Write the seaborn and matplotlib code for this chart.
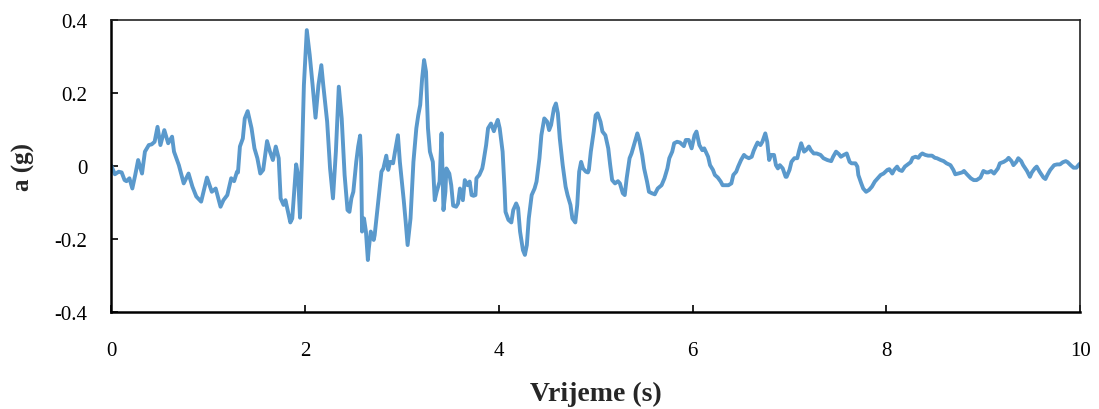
import matplotlib
matplotlib.use("Agg")
import matplotlib.pyplot as plt
import seaborn as sns
import pandas as pd

# time (s) and acceleration (g)
time_s = [0.0, 0.04, 0.08, 0.11, 0.14, 0.16, 0.19, 0.22, 0.25, 0.28, 0.32, 0.35, 0.39, 0.42,
          0.45, 0.48, 0.51, 0.55, 0.59, 0.63, 0.65, 0.70, 0.75, 0.80, 0.84, 0.88, 0.93, 0.99,
          1.04, 1.08, 1.13, 1.16, 1.20, 1.24, 1.27, 1.30, 1.31, 1.33, 1.36, 1.38, 1.41, 1.45,
          1.48, 1.51, 1.54, 1.57, 1.61, 1.64, 1.67, 1.70, 1.73, 1.75, 1.78, 1.80, 1.85, 1.87,
          1.91, 1.93, 1.95, 1.97, 1.99, 2.02, 2.05, 2.08, 2.11, 2.14, 2.17, 2.19, 2.23, 2.26,
          2.29, 2.32, 2.35, 2.38, 2.41, 2.44, 2.46, 2.48, 2.50, 2.53, 2.55, 2.57, 2.58, 2.59,
          2.61, 2.63, 2.65, 2.66, 2.68, 2.71, 2.72, 2.76, 2.79, 2.81, 2.84, 2.86, 2.88, 2.91,
          2.93, 2.96, 2.98, 3.02, 3.04, 3.06, 3.09, 3.12, 3.15, 3.17, 3.19, 3.21, 3.23, 3.25,
          3.27, 3.29, 3.32, 3.34, 3.36, 3.39, 3.41, 3.42, 3.43, 3.45, 3.46, 3.49, 3.51, 3.53,
          3.56, 3.58, 3.60, 3.63, 3.65, 3.68, 3.70, 3.72, 3.74, 3.76, 3.77, 3.80, 3.83, 3.84,
          3.87, 3.89, 3.92, 3.95, 3.97, 3.99, 4.01, 4.04, 4.06, 4.07, 4.10, 4.13, 4.15, 4.18,
          4.20, 4.22, 4.25, 4.27, 4.29, 4.31, 4.34, 4.37, 4.39, 4.42, 4.44, 4.47, 4.50, 4.52,
          4.54, 4.57, 4.59, 4.61, 4.63, 4.66, 4.69, 4.71, 4.74, 4.76, 4.79, 4.81, 4.83, 4.85,
          4.87, 4.90, 4.92, 4.93, 4.95, 4.98, 5.00, 5.02, 5.05, 5.07, 5.10, 5.13, 5.15, 5.17,
          5.20, 5.23, 5.25, 5.28, 5.30, 5.32, 5.35, 5.37, 5.40, 5.43, 5.45, 5.48, 5.50, 5.53,
          5.55, 5.58, 5.61, 5.64, 5.68, 5.71, 5.74, 5.76, 5.79, 5.81, 5.84, 5.87, 5.91, 5.93,
          5.96, 5.99, 6.02, 6.04, 6.07, 6.10, 6.12, 6.16, 6.18, 6.21, 6.23, 6.26, 6.29, 6.31,
          6.34, 6.37, 6.40, 6.42, 6.45, 6.47, 6.50, 6.53, 6.55, 6.58, 6.61, 6.63, 6.65, 6.67,
          6.70, 6.72, 6.75, 6.77, 6.79, 6.81, 6.84, 6.86, 6.88, 6.90, 6.93, 6.96, 6.97, 7.00,
          7.02, 7.05, 7.08, 7.10, 7.12, 7.15, 7.17, 7.20, 7.22, 7.25, 7.28, 7.32, 7.35, 7.39,
          7.43, 7.45, 7.48, 7.51, 7.53, 7.56, 7.59, 7.62, 7.64, 7.68, 7.70, 7.71, 7.74, 7.76,
          7.79, 7.82, 7.85, 7.88, 7.91, 7.94, 7.97, 8.01, 8.03, 8.06, 8.08, 8.11, 8.13, 8.16,
          8.19, 8.21, 8.25, 8.27, 8.30, 8.33, 8.35, 8.37, 8.40, 8.43, 8.47, 8.50, 8.52, 8.56,
          8.59, 8.62, 8.66, 8.69, 8.71, 8.74, 8.78, 8.80, 8.83, 8.87, 8.90, 8.93, 8.97, 9.00,
          9.03, 9.05, 9.08, 9.11, 9.15, 9.17, 9.21, 9.24, 9.26, 9.29, 9.31, 9.34, 9.36, 9.39,
          9.41, 9.45, 9.48, 9.50, 9.53, 9.55, 9.58, 9.62, 9.64, 9.66, 9.69, 9.73, 9.76, 9.79,
          9.82, 9.85, 9.87, 9.90, 9.93, 9.96, 9.98, 10.0]
accel_g = [0.002, -0.023, -0.016, -0.018, -0.039, -0.042, -0.034, -0.062, -0.025, 0.016, -0.021,
           0.039, 0.057, 0.059, 0.066, 0.107, 0.057, 0.098, 0.062, 0.080, 0.039, 0.002, -0.048,
           -0.021, -0.057, -0.084, -0.098, -0.032, -0.071, -0.062, -0.112, -0.094, -0.080, -0.034,
           -0.042, -0.016, -0.018, 0.053, 0.075, 0.130, 0.150, 0.103, 0.048, 0.021, -0.021,
           -0.011, 0.068, 0.039, 0.016, 0.053, 0.021, -0.089, -0.107, -0.094, -0.155, -0.144,
           0.004, -0.025, -0.142, 0.021, 0.221, 0.372, 0.304, 0.221, 0.132, 0.221, 0.276, 0.221,
           0.121, -0.007, -0.089, 0.039, 0.217, 0.130, -0.025, -0.121, -0.126, -0.089, -0.071,
           0.011, 0.053, 0.083, 0.021, -0.180, -0.144, -0.180, -0.258, -0.226, -0.180, -0.203,
           -0.190, -0.089, -0.016, -0.007, 0.028, -0.011, 0.011, 0.007, 0.039, 0.084, 0.011,
           -0.094, -0.153, -0.217, -0.144, 0.011, 0.103, 0.139, 0.167, 0.240, 0.290, 0.258, 0.103,
           0.039, 0.011, -0.094, -0.071, -0.043, 0.089, -0.016, -0.121, -0.071, -0.007, -0.021,
           -0.053, -0.109, -0.112, -0.103, -0.062, -0.094, -0.039, -0.053, -0.043, -0.080,
           -0.082, -0.080, -0.034, -0.025, -0.007, 0.007, 0.057, 0.103, 0.116, 0.095, 0.112,
           0.126, 0.103, 0.039, -0.062, -0.126, -0.148, -0.155, -0.121, -0.103, -0.116, -0.180,
           -0.231, -0.244, -0.217, -0.144, -0.080, -0.062, -0.043, 0.021, 0.084, 0.130, 0.121,
           0.098, 0.112, 0.158, 0.171, 0.144, 0.075, 0.002, -0.057, -0.080, -0.107, -0.144,
           -0.155, -0.107, -0.016, 0.011, -0.007, -0.016, -0.018, -0.011, 0.039, 0.094, 0.139,
           0.144, 0.121, 0.094, 0.084, 0.048, 0.002, -0.039, -0.048, -0.042, -0.048, -0.075,
           -0.080, -0.034, 0.021, 0.034, 0.062, 0.089, 0.071, 0.030, -0.007, -0.043, -0.071,
           -0.075, -0.078, -0.062, -0.053, -0.034, -0.007, 0.021, 0.039, 0.062, 0.066, 0.064,
           0.054, 0.071, 0.071, 0.048, 0.084, 0.094, 0.057, 0.043, 0.048, 0.025, 0.002, -0.011,
           -0.025, -0.032, -0.043, -0.053, -0.053, -0.053, -0.048, -0.025, -0.016, -0.002, 0.016,
           0.030, 0.025, 0.021, 0.025, 0.041, 0.053, 0.064, 0.057, 0.066, 0.089, 0.066, 0.016,
           0.030, 0.030, 0.002, -0.007, 0.002, -0.007, -0.030, -0.030, -0.011, 0.011, 0.021,
           0.021, 0.043, 0.062, 0.039, 0.043, 0.053, 0.043, 0.034, 0.034, 0.030, 0.021, 0.016,
           0.013, 0.025, 0.039, 0.032, 0.025, 0.030, 0.034, 0.011, 0.007, 0.007, -0.002, -0.025,
           -0.048, -0.062, -0.071, -0.066, -0.057, -0.043, -0.034, -0.025, -0.021, -0.011,
           -0.009, -0.021, -0.011, -0.002, -0.011, -0.014, -0.002, 0.002, 0.010, 0.022, 0.025,
           0.022, 0.030, 0.034, 0.030, 0.028, 0.028, 0.022, 0.021, 0.016, 0.013, 0.007, 0.002,
           -0.011, -0.023, -0.021, -0.018, -0.014, -0.023, -0.034, -0.039, -0.039, -0.032,
           -0.014, -0.018, -0.018, -0.014, -0.021, -0.007, 0.007, 0.011, 0.016, 0.022, 0.013,
           0.002, 0.011, 0.021, 0.013, 0.002, -0.014, -0.030, -0.018, -0.007, -0.002, -0.016,
           -0.032, -0.036, -0.025, -0.011, 0.002, 0.004, 0.004, 0.010, 0.013, 0.010, 0.002,
           -0.005, -0.005, 0.002, 0.007]

x_ticks = [0, 2, 4, 6, 8, 10]
y_ticks = [-0.4, -0.2, 0, 0.2, 0.4]

sns.set_theme(style="ticks")
plt.rcParams['font.family'] = ['Liberation Serif', 'DejaVu Serif']
plt.rcParams['axes.unicode_minus'] = False

df = pd.DataFrame({'t': time_s, 'a': accel_g})

fig = plt.figure(figsize=(10.99, 4.10), dpi=100)
ax = fig.add_axes([0.101, 0.237, 0.882, 0.712])
sns.lineplot(data=df, x='t', y='a', ax=ax, color='#5a99cc', linewidth=2.8)

ax.set_xlim(0, 10)
ax.set_ylim(-0.4, 0.4)
ax.set_xticks(x_ticks)
ax.set_yticks(y_ticks)
ax.set_xticklabels([f"{v:g}" for v in x_ticks])
ax.set_yticklabels([f"{v:g}" for v in y_ticks])
ax.tick_params(axis='x', direction='in', length=5, width=1.2, pad=21, labelsize=15, colors='black')
ax.tick_params(axis='y', direction='in', length=5, width=1.2, pad=17, labelsize=15, colors='black')

ax.set_xlabel('Vrijeme (s)', fontsize=20, fontweight='bold', labelpad=15)
ax.set_ylabel('a (g)', fontsize=18, fontweight='bold', labelpad=14)

for side in ['left', 'bottom']:
    ax.spines[side].set_linewidth(1.8)
    ax.spines[side].set_color('black')
for side in ['top', 'right']:
    ax.spines[side].set_linewidth(1.2)
    ax.spines[side].set_color('#222222')

fig.savefig('out.png', dpi=100)
